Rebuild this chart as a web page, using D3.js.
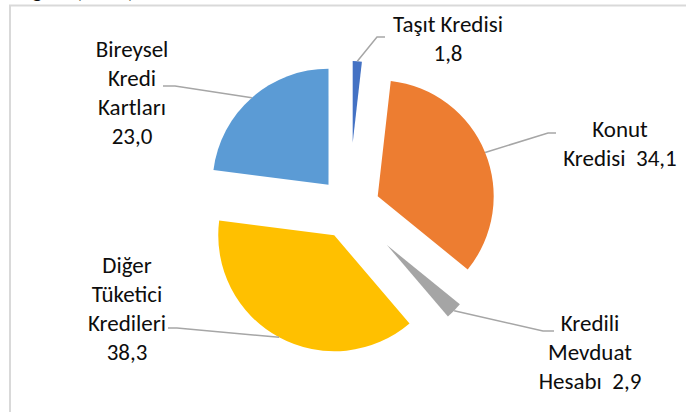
<!DOCTYPE html>
<html>
<head>
<meta charset="utf-8">
<script src="https://cdn.jsdelivr.net/npm/d3@7"></script>
<style>
  html, body { margin: 0; padding: 0; background: #fff; }
  text { font-family: Carlito, Calibri, Lato, sans-serif; fill: #0d0d0d; white-space: pre; }
</style>
</head>
<body>
<svg id="chart"></svg>
<script>
document.addEventListener('DOMContentLoaded', () => {
    const width = 686;
    const height = 412;

    // data
    const categories = ['Taşıt Kredisi', 'Konut Kredisi', 'Kredili Mevduat Hesabı', 'Diğer Tüketici Kredileri', 'Bireysel Kredi Kartları'];
    const values = [1.8, 34.1, 2.9, 38.3, 23.0];
    const valueLabels = ['1,8', '34,1', '2,9', '38,3', '23,0'];
    const labelLines = [
        ['Taşıt Kredisi', '1,8'],
        ['Konut', 'Kredisi  34,1'],
        ['Kredili', 'Mevduat', 'Hesabı  2,9'],
        ['Diğer', 'Tüketici', 'Kredileri', '38,3'],
        ['Bireysel', 'Kredi', 'Kartları', '23,0']
    ];

    // styling
    const colors = ['#4472C4', '#ED7D31', '#A5A5A5', '#FFC000', '#5B9BD5'];
    const explode = [65, 31, 53, 31, 31];
    const cx = 349, cy = 208, R = 147;
    const lineH = 29;
    // label anchor (centre x, first baseline) and leader elbow/end
    const labelPos = [
        { x: 448, y: 32, elbow: [377, 37], end: [385, 37] },
        { x: 620, y: 137, elbow: [548, 133], end: [556, 133] },
        { x: 590, y: 331, elbow: [543, 331], end: [554, 331] },
        { x: 127, y: 273, elbow: [177, 328], end: [168, 328] },
        { x: 132, y: 57, elbow: [175, 86], end: [163, 86] }
    ];

    const svg = d3.select('#chart')
        .attr('width', width)
        .attr('height', height);

    // frame
    svg.append('path')
        .attr('d', `M10,${height} V5.5 H${width}`)
        .attr('fill', 'none')
        .attr('stroke', '#d9d9d9')
        .attr('stroke-width', 2);

    // cut-off title at top
    svg.append('text')
        .attr('x', 10)
        .attr('y', -2)
        .attr('font-size', 20)
        .attr('font-weight', 'bold')
        .text('Dağılımı, 2023, %');

    const pie = d3.pie().sort(null).value(d => d)(values);
    const g = svg.append('g').attr('transform', `translate(${cx},${cy})`);

    const mid = d => (d.startAngle + d.endAngle) / 2;

    g.selectAll('.slice')
        .data(pie).join('path')
        .attr('class', 'slice')
        .attr('transform', (d, i) => `translate(${explode[i] * Math.sin(mid(d))},${-explode[i] * Math.cos(mid(d))})`)
        .attr('d', (d, i) => d3.arc().innerRadius(0).outerRadius(R - explode[i])(d))
        .attr('fill', (d, i) => colors[i]);

    // leader lines
    svg.selectAll('.leader')
        .data(pie).join('polyline')
        .attr('class', 'leader')
        .attr('points', (d, i) => {
            const sx = cx + R * Math.sin(mid(d));
            const sy = cy - R * Math.cos(mid(d));
            const p = labelPos[i];
            return `${sx},${sy} ${p.elbow[0]},${p.elbow[1]} ${p.end[0]},${p.end[1]}`;
        })
        .attr('fill', 'none')
        .attr('stroke', '#a6a6a6')
        .attr('stroke-width', 1.5);

    // labels
    const labels = svg.selectAll('.label')
        .data(labelLines).join('text')
        .attr('class', 'label')
        .attr('font-size', 23)
        .attr('text-anchor', 'middle');

    labels.selectAll('tspan')
        .data((d, i) => d.map((t, j) => ({ t, j, i })))
        .join('tspan')
        .attr('x', d => labelPos[d.i].x)
        .attr('y', d => labelPos[d.i].y + d.j * lineH)
        .text(d => d.t);
});
</script>
</body>
</html>
